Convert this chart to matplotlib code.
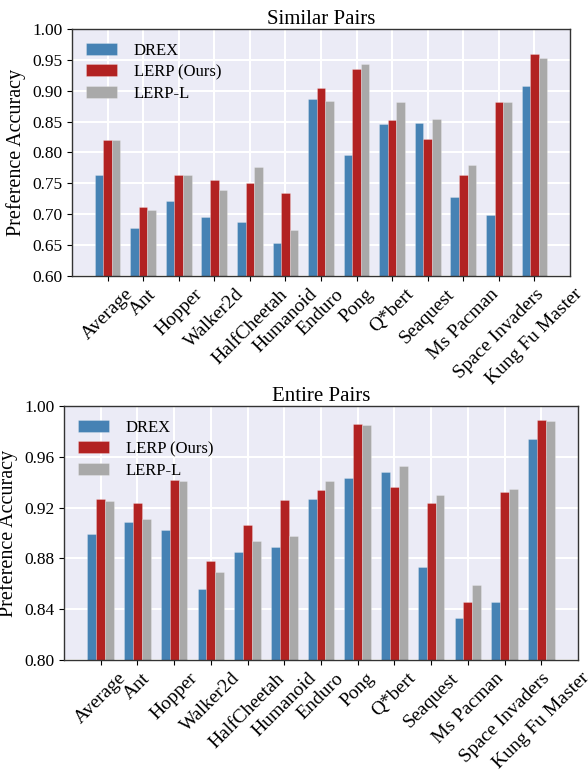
import numpy as np
import matplotlib
matplotlib.use("Agg")
from matplotlib import pyplot as plt

# ~~~~~~~~~~~~~~~~~~~~~~~~~~~~~~~~~~~~~~~~~~~~~~~~~~~~~~~~
# Data
tasks = ['Average', 'Ant', 'Hopper', 'Walker2d', 'HalfCheetah', 'Humanoid', 'Enduro',
         'Pong', 'Q*bert', 'Seaquest', 'Ms Pacman', 'Space Invaders', 'Kung Fu Master']
methods = ['DREX', 'LERP (Ours)', 'LERP-L']

# Similar pairs
similar_drex = [0.763, 0.677, 0.722, 0.695, 0.688, 0.654, 0.886, 0.796, 0.846, 0.848, 0.728, 0.699, 0.907]
similar_lerp = [0.820, 0.711, 0.764, 0.755, 0.750, 0.735, 0.904, 0.935, 0.853, 0.822, 0.764, 0.881, 0.960]
similar_lerpl = [0.820, 0.707, 0.763, 0.739, 0.776, 0.674, 0.884, 0.944, 0.881, 0.855, 0.780, 0.881, 0.953]

# Entire pairs
entire_drex = [0.899, 0.909, 0.902, 0.856, 0.885, 0.889, 0.927, 0.943, 0.948, 0.873, 0.833, 0.846, 0.974]
entire_lerp = [0.927, 0.924, 0.942, 0.878, 0.906, 0.926, 0.934, 0.986, 0.936, 0.924, 0.846, 0.932, 0.989]
entire_lerpl = [0.925, 0.911, 0.941, 0.869, 0.894, 0.898, 0.941, 0.985, 0.953, 0.930, 0.859, 0.935, 0.988]

similar_ticks = [0.60, 0.65, 0.70, 0.75, 0.80, 0.85, 0.90, 0.95, 1.00]
entire_ticks = [0.80, 0.84, 0.88, 0.92, 0.96, 1.00]

colors = ['#4682B4', '#B22222', '#A9A9A9']

plt.rcParams['font.family'] = ['Liberation Serif', 'DejaVu Serif']


# ~~~~~~~~~~~~~~~~~~~~~~~~~~~~~~~~~~~~~~~~~~~~~~~~~~~~~~~~
def draw_panel(ax, series, title, yticks):
    x = np.arange(len(tasks))
    width = 0.24
    ax.set_facecolor('#EBEBF6')
    ax.set_axisbelow(True)
    ax.grid(True, color='white', linewidth=1.5)
    for i, (vals, name) in enumerate(zip(series, methods)):
        ax.bar(x + (i - 1) * width, vals, width, color=colors[i], label=name,
               edgecolor='#ffffff55', linewidth=0.5)
    ax.set_xlim(-1, len(tasks))
    ax.set_ylim(yticks[0], yticks[-1])
    ax.set_yticks(yticks)
    ax.set_yticklabels([f'{t:.2f}' for t in yticks], fontsize=12.5)
    ax.set_xticks(x)
    ax.set_xticklabels(tasks, rotation=45, ha='center', fontsize=14)
    ax.set_ylabel('Preference Accuracy', fontsize=14.5)
    ax.set_title(title, fontsize=15, pad=3)
    for s in ax.spines.values():
        s.set_color('#333333')
        s.set_linewidth(1.0)
    ax.legend(loc='upper left', fontsize=12, frameon=False, handlelength=1.9,
              handleheight=0.72, handletextpad=1.0, borderaxespad=0.42,
              labelspacing=0.33)


fig = plt.figure(figsize=(5.88, 7.72), dpi=100)
ax1 = fig.add_axes([72 / 588, 1 - 276 / 772, (570 - 72) / 588, (276 - 29) / 772])
ax2 = fig.add_axes([64 / 588, 1 - 660 / 772, (578 - 64) / 588, (660 - 406) / 772])

draw_panel(ax1, [similar_drex, similar_lerp, similar_lerpl], 'Similar Pairs', similar_ticks)
draw_panel(ax2, [entire_drex, entire_lerp, entire_lerpl], 'Entire Pairs', entire_ticks)

plt.savefig('out.png', dpi=100)
